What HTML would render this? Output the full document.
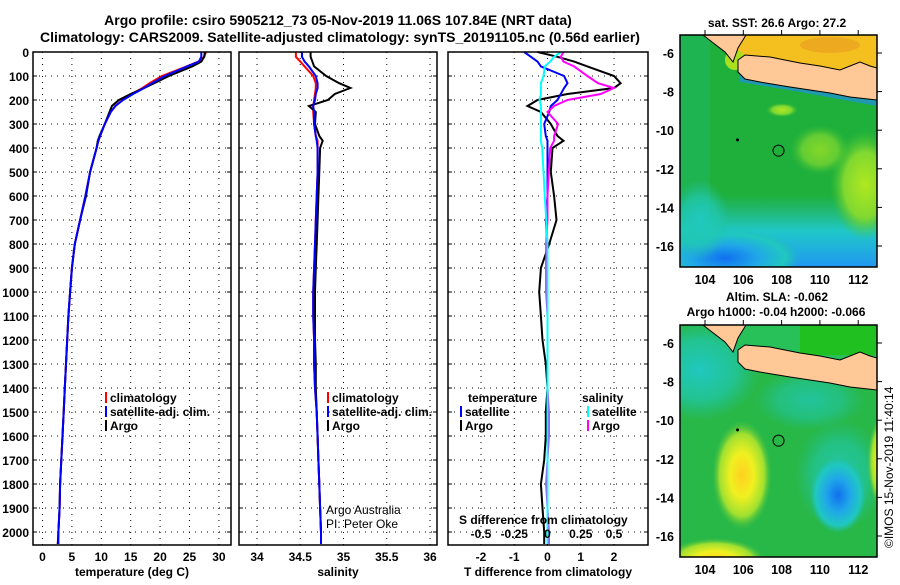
<!DOCTYPE html>
<html><head><meta charset="utf-8"><style>
body{margin:0;background:#fff;width:900px;height:580px;overflow:hidden}
svg{font-family:"Liberation Sans",sans-serif;font-weight:bold}
</style></head><body>
<svg id="c" width="900" height="580" xmlns="http://www.w3.org/2000/svg">
<defs>
<radialGradient id="gy" cx="50%" cy="50%" r="50%"><stop offset="0" stop-color="#ffd020"/><stop offset="0.4" stop-color="#f0f020"/><stop offset="0.75" stop-color="#a0e030"/><stop offset="1" stop-color="#40c040" stop-opacity="0"/></radialGradient>
<radialGradient id="gb" cx="50%" cy="50%" r="50%"><stop offset="0" stop-color="#1070f0"/><stop offset="0.45" stop-color="#20a8e8"/><stop offset="0.8" stop-color="#20c8c0"/><stop offset="1" stop-color="#20c0b0" stop-opacity="0"/></radialGradient>
<radialGradient id="gc" cx="50%" cy="50%" r="50%"><stop offset="0" stop-color="#20c8c0"/><stop offset="0.6" stop-color="#20c8b0" stop-opacity="0.7"/><stop offset="1" stop-color="#20c0a0" stop-opacity="0"/></radialGradient>
<linearGradient id="sstb" x1="0" y1="0" x2="0" y2="1"><stop offset="0" stop-color="#20c0b0" stop-opacity="0"/><stop offset="0.5" stop-color="#20c8c8"/><stop offset="1" stop-color="#2098f0"/></linearGradient>
<radialGradient id="gg" cx="50%" cy="50%" r="50%"><stop offset="0" stop-color="#b0e820"/><stop offset="0.6" stop-color="#80d830"/><stop offset="1" stop-color="#40c030" stop-opacity="0"/></radialGradient>
<clipPath id="m1c"><rect x="680" y="35" width="197" height="232"/></clipPath>
<clipPath id="m2c"><rect x="680" y="325" width="197" height="232"/></clipPath>
</defs>
<text x="338" y="25" font-size="14" text-anchor="middle">Argo profile: csiro 5905212_73 05-Nov-2019 11.06S 107.84E (NRT data)</text>
<text x="340" y="42" font-size="14" text-anchor="middle">Climatology: CARS2009. Satellite-adjusted climatology: synTS_20191105.nc (0.56d earlier)</text>
<g id="maps"></g>
<g id="plots"></g>
</svg>
<script>
const depthTicks=[0,100,200,300,400,500,600,700,800,900,1000,1100,1200,1300,1400,1500,1600,1700,1800,1900,2000];
const tempTicks=[0,5,10,15,20,25,30];
const salTicks=[34,34.5,35,35.5,36];
const tdTicks=[-2,-1,0,1,2];
const sdTicks=[-0.5,-0.25,0,0.25,0.5];
const sdTickLabels=["-0.5","-0.25","0","0.25","0.5"];
const depths=[0,20,40,60,100,130,150,175,200,225,250,300,350,370,400,500,600,700,800,900,1000,1100,1200,1300,1400,1500,1600,1700,1800,1900,2000,2050];
const tArgo=[27.6,27.5,27.0,25.5,21.5,19.0,17.3,15.0,13.0,11.8,11.4,10.6,9.7,9.4,9.2,8.1,7.4,6.4,5.5,5.0,4.7,4.4,4.2,4.0,3.8,3.6,3.4,3.2,3.0,2.9,2.7,2.6];
const tClim=[27.8,27.5,26.5,24.5,20.3,18.2,17.0,15.2,13.6,12.4,11.6,10.6,9.8,9.5,9.2,8.1,7.3,6.4,5.5,5.0,4.7,4.4,4.2,4.0,3.8,3.6,3.4,3.2,3.0,2.9,2.7,2.6];
const tSat=[27.0,27.0,26.6,24.6,20.8,18.6,17.3,15.4,13.7,12.4,11.6,10.6,9.8,9.5,9.2,8.1,7.3,6.4,5.5,5.0,4.7,4.4,4.2,4.0,3.8,3.6,3.4,3.2,3.0,2.9,2.7,2.7];
const sArgo=[34.62,34.62,34.64,34.66,34.8,34.95,35.08,34.9,34.82,34.6,34.68,34.67,34.72,34.76,34.73,34.72,34.71,34.70,34.69,34.68,34.67,34.67,34.67,34.68,34.68,34.69,34.70,34.71,34.72,34.73,34.74,34.74];
const sClim=[34.45,34.45,34.5,34.55,34.65,34.68,34.68,34.67,34.66,34.65,34.65,34.66,34.68,34.7,34.7,34.7,34.69,34.68,34.67,34.66,34.65,34.65,34.66,34.66,34.67,34.69,34.70,34.71,34.72,34.73,34.74,34.74];
const sSat=[34.52,34.52,34.55,34.6,34.68,34.7,34.7,34.68,34.67,34.65,34.66,34.66,34.68,34.69,34.7,34.7,34.69,34.68,34.67,34.66,34.65,34.65,34.66,34.66,34.67,34.69,34.70,34.71,34.72,34.73,34.74,34.74];
const tdArgo=[-0.3,0.3,0.8,1.2,2.0,2.2,2.0,0.6,-0.3,-0.6,-0.2,0.1,0.3,0.48,0.15,0.1,0.2,0.27,0.05,-0.2,-0.25,-0.2,-0.15,-0.05,0,-0.05,-0.05,-0.1,-0.2,-0.15,-0.1,-0.1];
const tdSat=[-0.7,-0.5,-0.3,-0.2,0.5,0.6,0.5,0.4,0.3,0.1,0.05,-0.1,-0.05,0,0,0,0,-0.05,0,0,0,0,0,0,0,0,0,0,0,0,0,0];
const sdArgo=[0.12,0.1,0.12,0.2,0.3,0.38,0.5,0.4,0.15,0.05,0,0.08,0.05,0.05,0.02,0.01,0,0,-0.01,-0.01,-0.01,0,0,0,0,0.01,0.01,0,-0.01,0,0.01,0.01];
const sdSat=[0.1,0.05,0.02,-0.02,-0.03,-0.05,-0.05,-0.05,-0.06,-0.05,-0.05,-0.05,-0.05,-0.05,-0.04,-0.03,-0.02,-0.01,0,0,0,0,0,0,0,0,0,0,0,0,0,0];
const NS="http://www.w3.org/2000/svg";
const P=document.getElementById('plots');
function el(t,a,p){const e=document.createElementNS(NS,t);for(const k in a)e.setAttribute(k,a[k]);(p||P).appendChild(e);return e;}
const y=d=>52+d*0.24;
const TOP=52,BOT=545;
function panel(x0,x1,name,xs,xticks,xlabels,xlabel,series){
 const g=el('g',{});
 
 
 for(const d of depthTicks){const l=el('line',{x1:x0,x2:x1,y1:y(d),y2:y(d),stroke:'#000','stroke-dasharray':'1,5'},g);
  el('line',{x1:x0,x2:x0+4,y1:y(d),y2:y(d),stroke:'#000'},g);el('line',{x1:x1-4,x2:x1,y1:y(d),y2:y(d),stroke:'#000'},g);}
 xticks.forEach((v,i)=>{const X=xs(v);const l=el('line',{x1:X,x2:X,y1:TOP,y2:BOT,stroke:'#000','stroke-dasharray':'1,5'},g);
  if(xlabels){const t=el('text',{x:X,y:561,'font-size':12,'text-anchor':'middle'},g);t.textContent=xlabels[i];}});
 for(const s of series){const pts=depths.map((d,i)=>xs(s.v[i]).toFixed(1)+','+y(Math.min(d,2050)).toFixed(1)).join(' ');
  const pl=el('polyline',{points:pts,fill:'none',stroke:s.c,'stroke-width':2},g);}
 const r=el('rect',{x:x0,y:TOP,width:x1-x0,height:BOT-TOP,fill:'none',stroke:'#000','stroke-width':1.5},g);
 if(xlabel){const t=el('text',{x:(x0+x1)/2,y:576,'font-size':12,'text-anchor':'middle'},g);t.textContent=xlabel;}
 return g;}
const xT=v=>42.5+v*5.88, xS=v=>257+(v-34)*86.5, xTD=v=>547.5+v*33.25, xSD=v=>547.5+v*133;
for(const d of depthTicks){const t=el('text',{x:29,y:y(d)+5,'font-size':12,'text-anchor':'end'});t.textContent=d;}
panel(33,231,'temperature-panel',xT,tempTicks,tempTicks.map(String),'temperature (deg C)',[{v:tClim,c:'#f00',n:'temp-climatology-line'},{v:tArgo,c:'#000',n:'temp-argo-line'},{v:tSat,c:'#00f',n:'temp-satellite-line'}]);
panel(239,437,'salinity-panel',xS,salTicks,salTicks.map(String),'salinity',[{v:sClim,c:'#f00',n:'sal-climatology-line'},{v:sArgo,c:'#000',n:'sal-argo-line'},{v:sSat,c:'#00f',n:'sal-satellite-line'}]);
const g3=panel(448,648,'difference-panel',xTD,tdTicks,tdTicks.map(String),'T difference from climatology',[{v:tdArgo,c:'#000',n:'tdiff-argo-line'},{v:tdSat,c:'#00f',n:'tdiff-satellite-line'},{v:sdArgo.map(v=>v*4),c:'#f0f',n:'sdiff-argo-line'},{v:sdSat.map(v=>v*4),c:'#0ff',n:'sdiff-satellite-line'}]);
sdTicks.forEach((v,i)=>{const t=el('text',{x:xSD(v),y:538,'font-size':12,'text-anchor':'middle'},g3);t.textContent=sdTickLabels[i];});
function txt(x,yy,s,name,o){const t=el('text',Object.assign({x:x,y:yy,'font-size':12},o||{}));t.textContent=s;return t;}
txt(459,524,'S difference from climatology','s-diff-axis-title');
function leg(x,yy,c,s,name){const r=el('rect',{x:x,y:yy-10,width:2,height:11,fill:c});txt(x+5,yy,s,name);}
[[105,'#f00','climatology'],[105,'#00f','satellite-adj. clim.'],[105,'#000','Argo']].forEach((a,i)=>leg(a[0],402+i*14,a[1],a[2],'temp-legend-'+i));
[[327,'#f00','climatology'],[327,'#00f','satellite-adj. clim.'],[327,'#000','Argo']].forEach((a,i)=>leg(a[0],402+i*14,a[1],a[2],'sal-legend-'+i));
txt(468,402,'temperature','diff-legend-temp-head');
leg(460,416,'#00f','satellite','diff-legend-tsat');leg(460,430,'#000','Argo','diff-legend-targo');
txt(582,402,'salinity','diff-legend-sal-head');
leg(587,416,'#0ff','satellite','diff-legend-ssat');leg(587,430,'#f0f','Argo','diff-legend-sargo');
txt(326,514,'Argo Australia','credit-line-1',{'font-weight':'normal'});
txt(326,528,'PI: Peter Oke','credit-line-2',{'font-weight':'normal'});

// maps
const M=document.getElementById('maps');
const lon=v=>705+(v-104)*19.15;
const lat1=v=>53+(-6-v)*19.3;
const latTicks=[-6,-8,-10,-12,-14,-16];
const lonTicks=[104,106,108,110,112];
function landPath(oy){return `M738,${60+oy} L745,${55+oy} L770,${57+oy} L800,${63+oy} L820,${66+oy} L840,${70+oy} L850,${66+oy} L860,${62+oy} L870,${66+oy} L877,${68+oy} L877,${100+oy} L850,${97+oy} L830,${93+oy} L790,${87+oy} L760,${82+oy} L745,${79+oy} L738,${72+oy} Z`;}
function sumPath(oy){return `M703,${35+oy} L746,${35+oy} L738,${48+oy} L733,${62+oy} L725,${52+oy} L712,${42+oy} Z`;}
function aboveLand(oy){return `M746,${35+oy} L877,${35+oy} L877,${68+oy} L870,${66+oy} L860,${62+oy} L850,${66+oy} L840,${70+oy} L820,${66+oy} L800,${63+oy} L770,${57+oy} L745,${55+oy} L738,${60+oy} L738,${48+oy} Z`;}
function map(oy,name,clip,fill){
 const g=el('g',{'clip-path':'url(#'+clip+')'},M);
 
 
 fill(g);
 el('path',{d:landPath(oy),fill:'#ffc896',stroke:'#000','stroke-width':1},g);
 el('path',{d:sumPath(oy),fill:'#ffc896',stroke:'#000','stroke-width':1},g);
 const f=el('rect',{x:680,y:35+oy,width:197,height:232,fill:'none',stroke:'#000','stroke-width':1.5},M);
 
 for(const v of latTicks){const Y=lat1(v)+oy;el('line',{x1:877,x2:882,y1:Y,y2:Y,stroke:'#000'},M);
  const t=el('text',{x:674,y:Y+5,'font-size':12.5,'text-anchor':'end'},M);t.textContent=v;}
 for(const v of lonTicks){const X=lon(v);el('line',{x1:X,x2:X,y1:30+oy,y2:35+oy,stroke:'#000'},M);
  const t=el('text',{x:X,y:284+oy,'font-size':12.5,'text-anchor':'middle'},M);t.textContent=v;}
 const c=el('circle',{cx:lon(107.84),cy:lat1(-11.06)+oy,r:5.5,fill:'none',stroke:'#000'},M);
 
 el('circle',{cx:lon(105.7),cy:lat1(-10.5)+oy,r:1.5,fill:'#000'},M);
}
map(0,'sst-map','m1c',g=>{
 el('rect',{x:680,y:35,width:197,height:232,fill:'#1fb03c'},g);
 el('rect',{x:680,y:35,width:30,height:232,fill:'#20b860','opacity':0.6},g);
 el('rect',{x:680,y:195,width:197,height:72,fill:'url(#sstb)'},g);
 el('ellipse',{cx:725,cy:258,rx:75,ry:30,fill:'url(#gb)'},g);
 el('ellipse',{cx:700,cy:220,rx:30,ry:40,fill:'url(#gc)'},g);
 el('ellipse',{cx:865,cy:185,rx:35,ry:55,fill:'url(#gg)'},g);
 el('ellipse',{cx:820,cy:150,rx:30,ry:25,fill:'url(#gg)',opacity:0.7},g);
 el('ellipse',{cx:782,cy:110,rx:16,ry:7,fill:'url(#gg)'},g);
 el('path',{d:'M740,74 L800,84 L877,98 L877,106 L800,92 L740,82 Z',fill:'#2090e0',opacity:0.7},g);
 el('path',{d:aboveLand(0),fill:'#f4c020'},g);
 el('ellipse',{cx:830,cy:45,rx:30,ry:8,fill:'#e89a20',opacity:0.6},g);
 el('ellipse',{cx:735,cy:60,rx:10,ry:10,fill:'#a8e020'},g);
});
map(290,'sla-map','m2c',g=>{
 el('rect',{x:680,y:325,width:197,height:232,fill:'#28b848'},g);
 el('ellipse',{cx:700,cy:370,rx:60,ry:50,fill:'url(#gc)'},g);
 el('ellipse',{cx:810,cy:400,rx:55,ry:30,fill:'url(#gc)',opacity:0.7},g);
 el('ellipse',{cx:840,cy:475,rx:45,ry:55,fill:'url(#gc)',opacity:0.8},g);
 el('ellipse',{cx:742,cy:475,rx:30,ry:55,fill:'url(#gy)'},g);
 el('ellipse',{cx:838,cy:495,rx:28,ry:38,fill:'url(#gb)'},g);
 el('ellipse',{cx:715,cy:560,rx:50,ry:22,fill:'url(#gy)'},g);
 el('ellipse',{cx:885,cy:462,rx:18,ry:50,fill:'url(#gy)'},g);
 el('path',{d:aboveLand(290),fill:'#28c058'},g);
 el('rect',{x:800,y:325,width:77,height:30,fill:'#20c020'},g);
 el('path',{d:landPath(290),fill:'#ffc896'},g);
});
txt(777,27,'sat. SST: 26.6 Argo: 27.2','sst-map-title',{'text-anchor':'middle'});
txt(777,301,'Altim. SLA: -0.062','sla-map-title-1',{'text-anchor':'middle'});
txt(776,316,'Argo h1000: -0.04 h2000: -0.066','sla-map-title-2',{'text-anchor':'middle'});
txt(0,0,'©IMOS 15-Nov-2019 11:40:14','timestamp',{'font-weight':'normal','transform':'translate(893,548) rotate(-90)'});
</script>
</body></html>
